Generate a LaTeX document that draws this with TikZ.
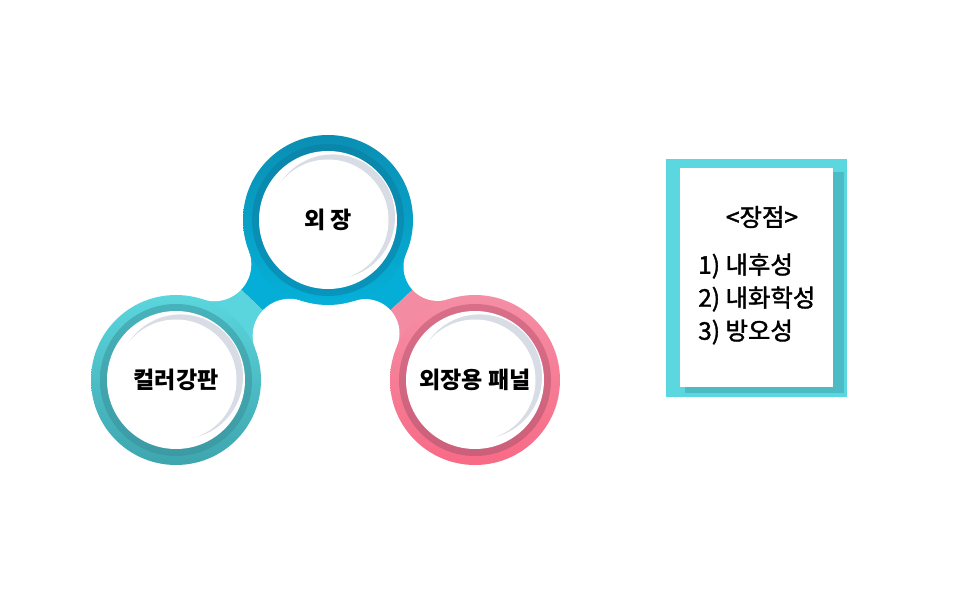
\documentclass[tikz,border=0pt]{standalone}
\usepackage{fontspec}
\usetikzlibrary{calc}
\newfontfamily\kr{Noto Sans CJK KR}
\newfontfamily\krm[FakeBold=1.6]{Noto Sans CJK KR}
\definecolor{blueN}{HTML}{05AED6}
\definecolor{blueT}{HTML}{0A8FB3}
\definecolor{blueB}{HTML}{05B0D8}
\definecolor{blueDT}{HTML}{0A86AA}
\definecolor{blueDB}{HTML}{0894BC}
\definecolor{tealN}{HTML}{5BD5DD}
\definecolor{tealT}{HTML}{5BD6DD}
\definecolor{tealB}{HTML}{3EA5AE}
\definecolor{tealDT}{HTML}{48B2BA}
\definecolor{tealDB}{HTML}{3C9AA3}
\definecolor{pinkN}{HTML}{F38BA2}
\definecolor{pinkT}{HTML}{F48FA5}
\definecolor{pinkB}{HTML}{F86A86}
\definecolor{pinkDT}{HTML}{D86F89}
\definecolor{pinkDB}{HTML}{CC5F7A}
\definecolor{crescent}{HTML}{D8DCE5}
\definecolor{boxc}{HTML}{5BD8DF}
\definecolor{boxs}{HTML}{4BBCC6}
\tikzset{
  lbl/.style={font=\kr\bfseries\fontsize{17.3}{20}\selectfont, text=black},
  boxtxt/.style={font=\krm\fontsize{18.3}{22}\selectfont, text=black, inner sep=0pt},
  gap/.style={fill=white},
}
\newcommand{\ringpic}[5]{%
  \shade[top color=#2, bottom color=#3] (#1) circle (85);
  \shade[top color=#4, bottom color=#5] (#1) circle (76);
  \fill[white] (#1) circle (69);
  \fill[crescent] ($(#1)+(35:5.7)$) circle (62.3);
  \fill[white] (#1) circle (60.5);
}
\begin{document}
\begin{tikzpicture}[x=0.75pt,y=0.75pt]
\useasboundingbox (0,0) rectangle (960,600);
\fill[white] (0,0) rectangle (960,600);
% centers
\coordinate (T) at (328,380);
\coordinate (L) at (176,220);
\coordinate (R) at (475,220);
% left neck points
\coordinate (G1o) at (214.3,335.8);
\coordinate (G1i) at (289.7,264.2);
\coordinate (T1o) at (248.8,349.2);
\coordinate (L1o) at (202.7,300.7);
\coordinate (T1i) at (301.3,299.3);
\coordinate (L1i) at (255.2,250.8);
\coordinate (P1o) at (230.25,320.7);
\coordinate (P1i) at (273.75,279.3);
% right neck points
\coordinate (G2o) at (437.7,333.3);
\coordinate (G2i) at (365.3,266.7);
\coordinate (T2o) at (406.2,346.7);
\coordinate (R2o) at (448.4,300.8);
\coordinate (T2i) at (354.6,299.2);
\coordinate (R2i) at (396.8,253.3);
\coordinate (P2o) at (423.6,320.3);
\coordinate (P2i) at (379.4,279.7);
% necks
\fill[blueN] (T) -- (T1o) -- (P1o) -- (P1i) -- (T1i) -- cycle;
\fill[tealN] (L) -- (L1o) -- (P1o) -- (P1i) -- (L1i) -- cycle;
\fill[blueN] (T) -- (T2o) -- (P2o) -- (P2i) -- (T2i) -- cycle;
\fill[pinkN] (R) -- (R2o) -- (P2o) -- (P2i) -- (R2i) -- cycle;
\fill[gap] (G1o) circle (37);
\fill[gap] (G1i) circle (37);
\fill[gap] (G2o) circle (34.2);
\fill[gap] (G2i) circle (34.2);
% circles
\ringpic{T}{blueT}{blueB}{blueDT}{blueDB}
\ringpic{L}{tealT}{tealB}{tealDT}{tealDB}
\ringpic{R}{pinkT}{pinkB}{pinkDT}{pinkDB}
\node[lbl] (tT) at (T) {외 장};
\node[lbl] (tL) at (L) {컬러강판};
\node[lbl] (tR) at (R) {외장용 패널};
% box
\fill[boxc] (666,203) rectangle (847,441);
\fill[boxs] (685,207) rectangle (844,428);
\fill[white] (680,213) rectangle (833,432);
\node[boxtxt] (h) at (762,383) {<장점>};
\node[boxtxt, anchor=west] (i1) at (698,334) {1) 내후성};
\node[boxtxt, anchor=west] (i2) at (698,301) {2) 내화학성};
\node[boxtxt, anchor=west] (i3) at (698,268) {3) 방오성};
\end{tikzpicture}
\end{document}
